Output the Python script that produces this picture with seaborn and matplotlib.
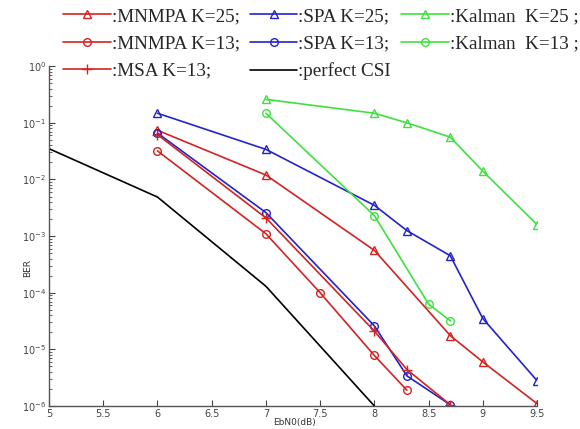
import numpy as np
import pandas as pd
import matplotlib
matplotlib.use("Agg")
import matplotlib.pyplot as plt
import seaborn as sns
from matplotlib.ticker import LogLocator, NullFormatter

# ---- data ----
x_mnmpa25 = [6, 7, 8, 8.7, 9, 9.5]
y_mnmpa25 = [0.074, 0.012, 5.6e-4, 1.75e-5, 6e-6, 1.1e-6]
x_spa25 = [6, 7, 8, 8.3, 8.7, 9, 9.5]
y_spa25 = [0.148, 0.034, 3.5e-3, 1.25e-3, 4.5e-4, 3.5e-5, 2.8e-6]
x_kal25 = [7, 8, 8.3, 8.7, 9, 9.5]
y_kal25 = [0.26, 0.148, 0.1, 0.056, 0.014, 1.6e-3]
x_mnmpa13 = [6, 7, 7.5, 8, 8.3]
y_mnmpa13 = [0.032, 1.1e-3, 1.0e-4, 7.8e-6, 1.9e-6]
x_spa13 = [6, 7, 8, 8.3, 8.7]
y_spa13 = [0.066, 2.6e-3, 2.6e-5, 3.4e-6, 1.05e-6]
x_kal13 = [7, 8, 8.5, 8.7]
y_kal13 = [0.148, 2.3e-3, 6.3e-5, 3.2e-5]
x_msa13 = [6, 7, 8, 8.3, 8.7]
y_msa13 = [0.062, 2.1e-3, 2.1e-5, 4.4e-6, 1.05e-6]
x_csi = [5, 6, 7, 8]
y_csi = [0.035, 0.0049, 1.3e-4, 1e-6]

labels = [":MNMPA K=25;", ":SPA K=25;", ":Kalman  K=25 ;",
          ":MNMPA K=13;", ":SPA K=13;", ":Kalman  K=13 ;",
          ":MSA K=13;", ":perfect CSI"]
xticks = [5, 5.5, 6, 6.5, 7, 7.5, 8, 8.5, 9, 9.5]
xticklabels = ["5", "5.5", "6", "6.5", "7", "7.5", "8", "8.5", "9", "9.5"]

RED = "#d42222"
BLUE = "#2323c8"
GREEN = "#3fe03f"

sns.set_style("white")
plt.rcParams['font.family'] = ['DejaVu Sans']

fig = plt.figure(figsize=(5.8, 4.29), dpi=100)
ax = fig.add_axes([0.0845, 0.0536, 0.8415, 0.792])

series = [
    (x_mnmpa25, y_mnmpa25, RED, "^", labels[0]),
    (x_spa25, y_spa25, BLUE, "^", labels[1]),
    (x_kal25, y_kal25, GREEN, "^", labels[2]),
    (x_mnmpa13, y_mnmpa13, RED, "o", labels[3]),
    (x_spa13, y_spa13, BLUE, "o", labels[4]),
    (x_kal13, y_kal13, GREEN, "o", labels[5]),
    (x_msa13, y_msa13, RED, "+", labels[6]),
    (x_csi, y_csi, "black", None, labels[7]),
]

handles = {}
for xs, ys, c, m, lab in series:
    df = pd.DataFrame({"x": xs, "y": ys})
    kw = {}
    if m is not None:
        kw = dict(marker=m, markersize=5.5 if m != "+" else 7, markerfacecolor="none",
                  markeredgecolor=c, markeredgewidth=1.0)
    sns.lineplot(data=df, x="x", y="y", ax=ax, color=c, linewidth=1.2,
                 label=lab, legend=False, **kw)
    handles[lab] = ax.get_lines()[-1]

ax.set_yscale("log")
ax.set_xlim(5, 9.5)
ax.set_ylim(1e-6, 1)
ax.set_xticks(xticks)
ax.set_xticklabels(xticklabels)
ax.yaxis.set_major_locator(LogLocator(base=10, numticks=10))
ax.yaxis.set_minor_locator(LogLocator(base=10, subs=np.arange(2, 10), numticks=10))
ax.yaxis.set_minor_formatter(NullFormatter())

for s in ["top", "right"]:
    ax.spines[s].set_visible(False)
for s in ["left", "bottom"]:
    ax.spines[s].set_color("#555555")
    ax.spines[s].set_linewidth(1.0)

ax.tick_params(axis="both", which="major", direction="in", length=4,
               labelsize=7, colors="#444444", left=True, bottom=True, pad=2)
ax.tick_params(axis="y", which="minor", direction="in", length=2, left=True, colors="#444444")
ax.set_xlabel("EbN0(dB)", fontsize=6.5, color="#333333", labelpad=0)
ax.set_ylabel("BER", fontsize=6.5, color="#333333", labelpad=2)
ax.xaxis.set_label_coords(0.502, -0.035)
ax.yaxis.set_label_coords(-0.035, 0.405)

order = [labels[0], labels[3], labels[6], labels[1], labels[4], labels[7], labels[2], labels[5]]
leg = fig.legend([handles[l] for l in order], order, ncol=3,
                 loc="upper left", bbox_to_anchor=(0.1086, 0.982),
                 frameon=False, prop={"family": "Liberation Serif", "size": 13.8},
                 handlelength=2.5, handletextpad=0.05, columnspacing=0.5,
                 labelspacing=0.52, borderaxespad=0.0, borderpad=0.0)

fig.savefig("out.png", dpi=100)
